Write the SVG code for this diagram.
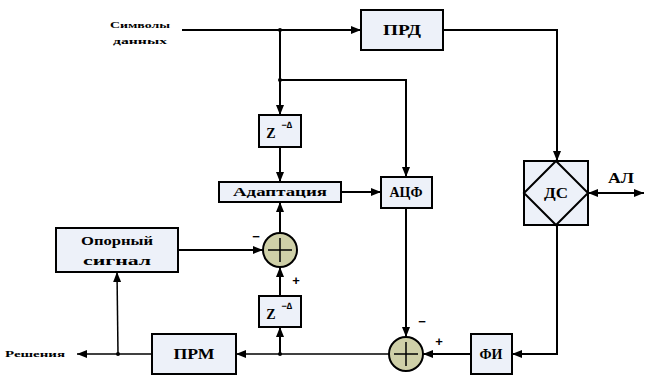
<svg xmlns="http://www.w3.org/2000/svg" width="645" height="376" viewBox="0 0 645 376">
<defs>
<marker id="ah" viewBox="0 0 10 8" refX="10" refY="4" markerWidth="10" markerHeight="8" markerUnits="userSpaceOnUse" orient="auto-start-reverse">
<path d="M0,0 L10,4 L0,8 z" fill="#000"/>
</marker>
<style>
.box{fill:#edf1f9;stroke:#000;stroke-width:2}
.sum{fill:#cfd0a8;stroke:#000;stroke-width:2}
.ln{fill:none;stroke:#000;stroke-width:2}
.thin{fill:none;stroke:#000;stroke-width:1.5}
.t{font-family:"Liberation Serif","DejaVu Serif",serif;font-weight:bold;fill:#000;text-anchor:middle;dominant-baseline:central}
.s{font-family:"Liberation Serif","DejaVu Serif",serif;font-weight:bold;fill:#000;dominant-baseline:central}
.sg{font-family:"Liberation Sans","DejaVu Sans",sans-serif;font-weight:bold;fill:#000;text-anchor:middle;dominant-baseline:central}
</style>
</defs>
<rect width="645" height="376" fill="#fff"/>

<g id="connectors">
<path class="ln" d="M182,30 H361" marker-end="url(#ah)"/>
<path class="ln" d="M280,30 V115" marker-end="url(#ah)"/>
<path class="ln" d="M280,80 H406 V177" marker-end="url(#ah)"/>
<path class="ln" d="M443,30 H557 V161" marker-end="url(#ah)"/>
<path class="ln" d="M280,147 V182" marker-end="url(#ah)"/>
<path class="ln" d="M341,192 H381" marker-end="url(#ah)"/>
<path class="ln" d="M280,233 V202" marker-end="url(#ah)"/>
<path class="ln" d="M178,250 H263" marker-end="url(#ah)"/>
<path class="ln" d="M588,193 H644" marker-start="url(#ah)" marker-end="url(#ah)"/>
<path class="ln" d="M557,225 V354 H512" marker-end="url(#ah)"/>
<path class="ln" d="M406,208 V337" marker-end="url(#ah)"/>
<path class="ln" d="M471,354 H423" marker-end="url(#ah)"/>
<path class="thin" d="M389,354 H236" marker-end="url(#ah)"/>
<path class="ln" d="M280,354 V327" marker-end="url(#ah)"/>
<path class="ln" d="M280,296 V267" marker-end="url(#ah)"/>
<path class="thin" d="M152,354 H77" marker-end="url(#ah)"/>
<path class="thin" d="M118,354 L117,272" marker-end="url(#ah)"/>
<circle cx="280" cy="30" r="2" fill="#000"/>
<circle cx="280" cy="80" r="2" fill="#000"/>
<circle cx="280" cy="354" r="2" fill="#000"/>
<circle cx="118" cy="354" r="2" fill="#000"/>
</g>

<g id="label-input">
<text class="s" x="140" y="25" font-size="9" text-anchor="middle" textLength="60" lengthAdjust="spacingAndGlyphs">Символы</text>
<text class="s" x="140" y="41" font-size="9" text-anchor="middle" textLength="54" lengthAdjust="spacingAndGlyphs">данных</text>
</g>
<g id="label-out">
<text class="s" x="5" y="354" font-size="9" textLength="60" lengthAdjust="spacingAndGlyphs">Решения</text>
</g>

<g id="prd">
<rect class="box" x="361" y="10" width="82" height="40"/>
<text class="t" x="402" y="30" font-size="14" textLength="38" lengthAdjust="spacingAndGlyphs">ПРД</text>
</g>

<g id="z1">
<rect class="box" x="259" y="115" width="42" height="32"/>
<text class="t" x="271" y="133" font-size="14">Z</text>
<text class="sg" x="287" y="125" font-size="9">−∆</text>
</g>

<g id="adapt">
<rect class="box" x="219" y="182" width="122" height="20"/>
<text class="t" x="280" y="192" font-size="12" textLength="94" lengthAdjust="spacingAndGlyphs">Адаптация</text>
</g>

<g id="acf">
<rect class="box" x="381" y="177" width="51" height="31"/>
<text class="t" x="406" y="192" font-size="14" textLength="33" lengthAdjust="spacingAndGlyphs">АЦФ</text>
</g>

<g id="ds">
<rect class="box" x="524" y="161" width="64" height="64"/>
<path d="M556,161 L588,193 L556,225 L524,193 Z" fill="none" stroke="#000" stroke-width="2"/>
<text class="t" x="556" y="193" font-size="14" textLength="24" lengthAdjust="spacingAndGlyphs">ДС</text>
</g>

<g id="al">
<text class="t" x="621" y="178" font-size="14" textLength="26" lengthAdjust="spacingAndGlyphs">АЛ</text>
</g>

<g id="ref">
<rect class="box" x="56" y="228" width="122" height="44"/>
<text class="t" x="117" y="240" font-size="13" textLength="72" lengthAdjust="spacingAndGlyphs">Опорный</text>
<text class="t" x="117" y="260" font-size="13" textLength="68" lengthAdjust="spacingAndGlyphs">сигнал</text>
</g>

<g id="sum1">
<circle class="sum" cx="280" cy="250" r="17"/>
<path d="M268,250 H292 M280,238 V262" stroke="#000" stroke-width="1.5"/>
<text class="sg" x="256" y="236" font-size="13">−</text>
<text class="sg" x="296" y="280" font-size="13">+</text>
</g>

<g id="z2">
<rect class="box" x="259" y="296" width="42" height="31"/>
<text class="t" x="271" y="314" font-size="14">Z</text>
<text class="sg" x="287" y="306" font-size="9">−∆</text>
</g>

<g id="prm">
<rect class="box" x="152" y="334" width="84" height="40"/>
<text class="t" x="194" y="354" font-size="14" textLength="41" lengthAdjust="spacingAndGlyphs">ПРМ</text>
</g>

<g id="sum2">
<circle class="sum" cx="406" cy="354" r="17"/>
<path d="M394,354 H418 M406,342 V366" stroke="#000" stroke-width="1.5"/>
<text class="sg" x="422" y="321" font-size="13">−</text>
<text class="sg" x="439" y="341" font-size="13">+</text>
</g>

<g id="fi">
<rect class="box" x="471" y="334" width="41" height="40"/>
<text class="t" x="491" y="354" font-size="14" textLength="23" lengthAdjust="spacingAndGlyphs">ФИ</text>
</g>
</svg>
